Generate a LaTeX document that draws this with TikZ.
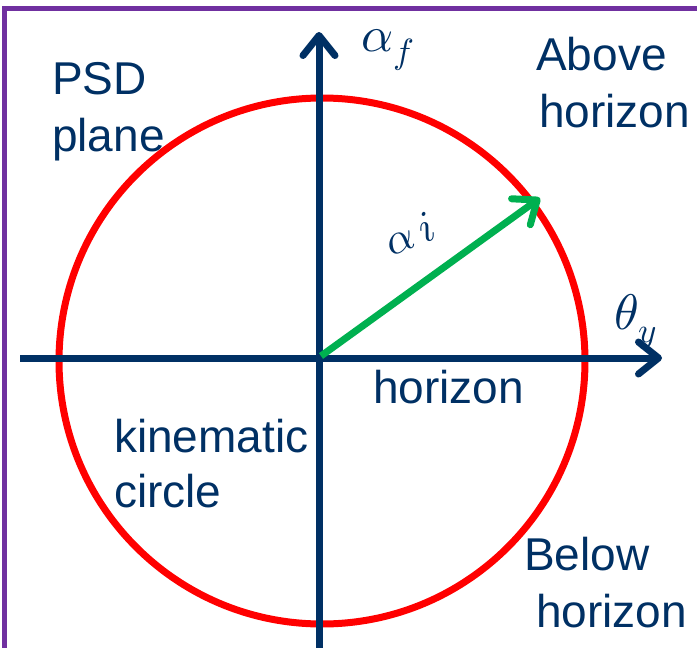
\documentclass[tikz,border=0pt]{standalone}
\usepackage{unicode-math}
\setmainfont{Liberation Sans}
\setmathfont{Latin Modern Math}
\usetikzlibrary{arrows.meta}
\definecolor{navy}{RGB}{0,48,100}
\definecolor{pptpurple}{RGB}{112,48,160}
\definecolor{pptgreen}{RGB}{0,176,80}
\begin{document}
\begin{tikzpicture}[x=1pt,y=-1pt,
  lbl/.style={font=\fontsize{46}{57}\selectfont, text=navy, inner sep=0pt, anchor=base west},
  mth/.style={text=navy, inner sep=0pt},
  barb/.style={-{Straight Barb[length=20pt,width=32pt,line cap=round,line join=round]}},
  axis/.style={draw=navy, line width=7pt, barb}]
\useasboundingbox (0,0) rectangle (697,648);
% frame
\draw[pptpurple, line width=5pt] (4.5,648) -- (4.5,8) -- (697,8);
% circle
\draw[red, line width=7pt] (322,361) circle[radius=263];
% axes
\coordinate (xl) at (20,358);
\coordinate (xr) at (662,358);
\coordinate (yb) at (319,648);
\coordinate (yt) at (319,32);
\coordinate (o) at (321,356);
\coordinate (p) at (540,198);
\draw[axis] (xl) -- (xr);
\draw[axis] (yb) -- (yt);
% green vector
\draw[pptgreen, line width=7pt, barb] (o) -- (p);
% math labels
\node[mth, font=\fontsize{50}{56}\selectfont] (af) at (388,50) {$\alpha_f$};
\node[mth, font=\fontsize{50}{56}\selectfont] (ty) at (636,322) {$\theta_y$};
\node[mth, font=\fontsize{44}{50}\selectfont, rotate=22] (ai) at (410,234) {$\alpha\,i$};
% text labels
\node[lbl] (psd1) at (52,94) {PSD};
\node[lbl] (psd2) at (52,151) {plane};
\node[lbl] (ab1) at (536,70) {Above};
\node[lbl] (ab2) at (539,127) {horizon};
\node[lbl] (hz) at (373,403) {horizon};
\node[lbl] (kc1) at (114,452) {kinematic};
\node[lbl] (kc2) at (114,507) {circle};
\node[lbl] (bl1) at (524,570) {Below};
\node[lbl] (bl2) at (536,627) {horizon};
\end{tikzpicture}
\end{document}
